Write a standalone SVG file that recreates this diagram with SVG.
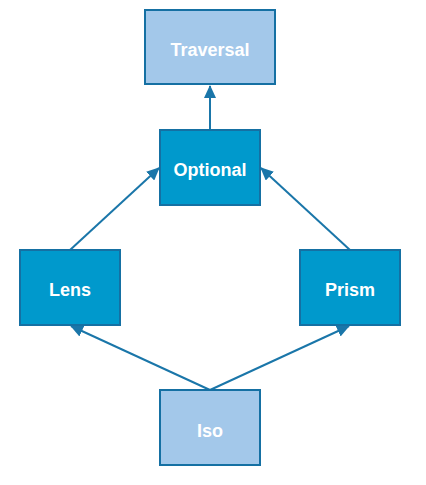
<svg xmlns="http://www.w3.org/2000/svg" width="426" height="485" viewBox="0 0 426 485">
<style>
.box{stroke:#1570a3;stroke-width:2}
.light{fill:#a3c8ea}
.dark{fill:#0099cc}
.lbl{font-family:"Liberation Sans",Arial,sans-serif;font-size:18px;font-weight:bold;fill:#ffffff;text-anchor:middle;dominant-baseline:central}
.edge{stroke:#1a76a9;stroke-width:2;fill:none}
</style>
<defs>
<marker id="ah" viewBox="0 0 13 12" refX="12" refY="6" markerWidth="13" markerHeight="12" markerUnits="userSpaceOnUse" orient="auto">
<path d="M0,0 L13,6 L0,12 Z" fill="#1a76a9"/>
</marker>
</defs>
<g id="connectors">
<line class="edge" x1="210" y1="130" x2="210" y2="86" marker-end="url(#ah)"/>
<line class="edge" x1="70" y1="250" x2="159" y2="168" marker-end="url(#ah)"/>
<line class="edge" x1="350" y1="250" x2="261" y2="168" marker-end="url(#ah)"/>
<line class="edge" x1="210" y1="390" x2="71" y2="326" marker-end="url(#ah)"/>
<line class="edge" x1="210" y1="390" x2="349" y2="326" marker-end="url(#ah)"/>
</g>
<g id="traversal">
<rect class="box light" x="145" y="10" width="130" height="74"/>
<text class="lbl" x="210" y="50">Traversal</text>
</g>
<g id="optional">
<rect class="box dark" x="160" y="130" width="100" height="75"/>
<text class="lbl" x="210" y="170">Optional</text>
</g>
<g id="lens">
<rect class="box dark" x="20" y="250" width="100" height="75"/>
<text class="lbl" x="70" y="290">Lens</text>
</g>
<g id="prism">
<rect class="box dark" x="300" y="250" width="100" height="75"/>
<text class="lbl" x="350" y="290">Prism</text>
</g>
<g id="iso">
<rect class="box light" x="160" y="390" width="100" height="75"/>
<text class="lbl" x="210" y="431">Iso</text>
</g>
</svg>
